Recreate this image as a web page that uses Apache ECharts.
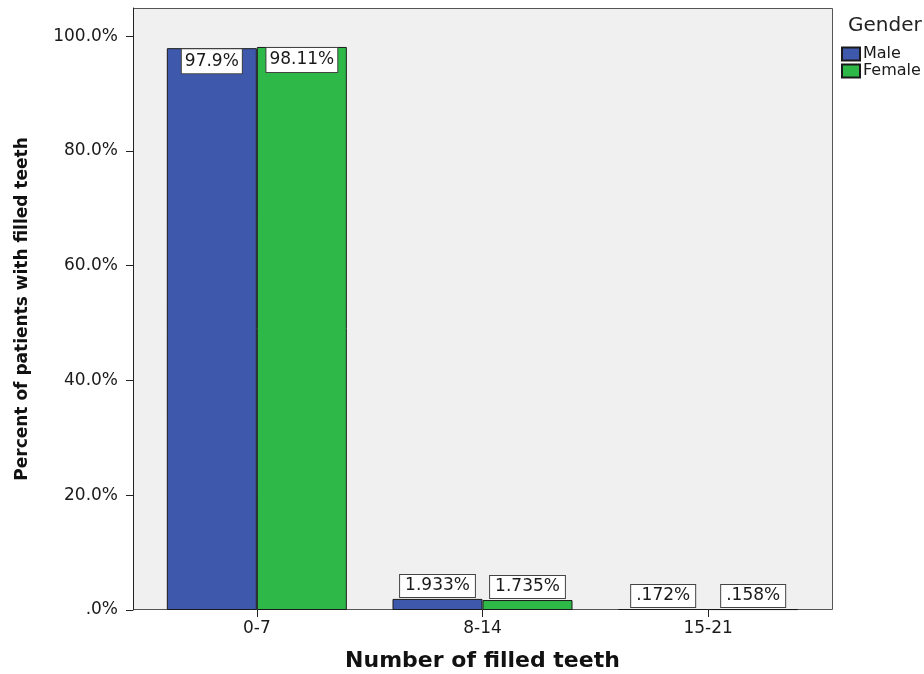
<!DOCTYPE html>
<html>
<head>
<meta charset="utf-8">
<script src="https://cdn.jsdelivr.net/npm/echarts@6/dist/echarts.min.js"></script>
<style>
html,body{margin:0;padding:0;background:#fff;}
#chart{width:924px;height:674px;}
</style>
</head>
<body>
<div id="chart"></div>
<script>
const categories = ['0-7', '8-14', '15-21'];
const male = [97.9, 1.933, 0.172];
const female = [98.11, 1.735, 0.158];
const yTickValues = [0, 20, 40, 60, 80, 100];
const seriesNames = ['Male', 'Female'];
const seriesColors = ['#3e58ac', '#2eb848'];

const FONT = 'DejaVu Sans';

function pctLabel(v) {
  return String(v).replace(/^0(?=\.)/, '') + '%';
}
function tickLabel(v) {
  return v === 0 ? '.0%' : v.toFixed(1) + '%';
}

function makeData(values) {
  return values.map(function (v) {
    return {
      value: v,
      label: v > 50
        ? { position: 'insideTop', distance: 1, padding: [3, 3, 3, 3] }
        : { position: 'top', distance: 2, padding: [2, 5, 2, 5] }
    };
  });
}

function makeSeries(name, values, color) {
  return {
    name: name,
    type: 'bar',
    barWidth: 90,
    barGap: '0%',
    data: makeData(values),
    itemStyle: { color: color, borderColor: '#1a1a1a', borderWidth: 1 },
    label: {
      show: true,
      formatter: function (p) { return pctLabel(p.value); },
      fontFamily: FONT,
      fontSize: 17,
      lineHeight: 18,
      color: '#1a1a1a',
      backgroundColor: '#fff',
      borderColor: '#444',
      borderWidth: 1
    }
  };
}

const chart = echarts.init(document.getElementById('chart'), null, { renderer: 'canvas' });
chart.setOption({
  backgroundColor: '#fff',
  animation: false,
  title: {
    text: 'Gender',
    left: 843,
    top: 11,
    textStyle: { fontFamily: FONT, fontSize: 20, fontWeight: 'normal', color: '#222' }
  },
  legend: {
    orient: 'vertical',
    left: 841,
    top: 46,
    itemWidth: 18,
    itemHeight: 13,
    itemGap: 1,
    icon: 'rect',
    padding: 0,
    data: seriesNames,
    textStyle: { fontFamily: FONT, fontSize: 16, color: '#1a1a1a', padding: [0, 0, 0, -2] }
  },
  graphic: {
    elements: [{
      type: 'rect',
      z: -10,
      silent: true,
      shape: { x: 133.5, y: 8.5, width: 699, height: 601 },
      style: { fill: '#f0f0f0', stroke: '#555', lineWidth: 1 }
    }]
  },
  grid: { left: 144, right: 103, top: 8, bottom: 64, outerBoundsMode: 'none', containLabel: false },
  xAxis: {
    type: 'category',
    data: categories,
    name: 'Number of filled teeth',
    nameLocation: 'middle',
    nameGap: 40,
    nameTextStyle: { fontFamily: FONT, fontSize: 22, fontWeight: 'bold', color: '#111' },
    axisLine: { show: false },
    axisTick: { show: true, alignWithLabel: true, length: 7, lineStyle: { color: '#222' } },
    axisLabel: { fontFamily: FONT, fontSize: 17, color: '#1a1a1a', margin: 10 }
  },
  yAxis: {
    type: 'value',
    min: 0,
    max: 104.9,
    interval: 20,
    offset: 11,
    name: 'Percent of patients with filled teeth',
    nameLocation: 'middle',
    nameGap: 102,
    nameTextStyle: { fontFamily: FONT, fontSize: 17, fontWeight: 'bold', color: '#111' },
    splitLine: { show: false },
    axisLine: { show: true, lineStyle: { color: '#222' } },
    axisTick: { show: true, length: 7, customValues: yTickValues, lineStyle: { color: '#222' } },
    axisLabel: {
      fontFamily: FONT, fontSize: 17, color: '#1a1a1a', margin: 15,
      customValues: yTickValues,
      formatter: tickLabel
    }
  },
  series: [
    makeSeries(seriesNames[0], male, seriesColors[0]),
    makeSeries(seriesNames[1], female, seriesColors[1])
  ]
});
</script>
</body>
</html>
